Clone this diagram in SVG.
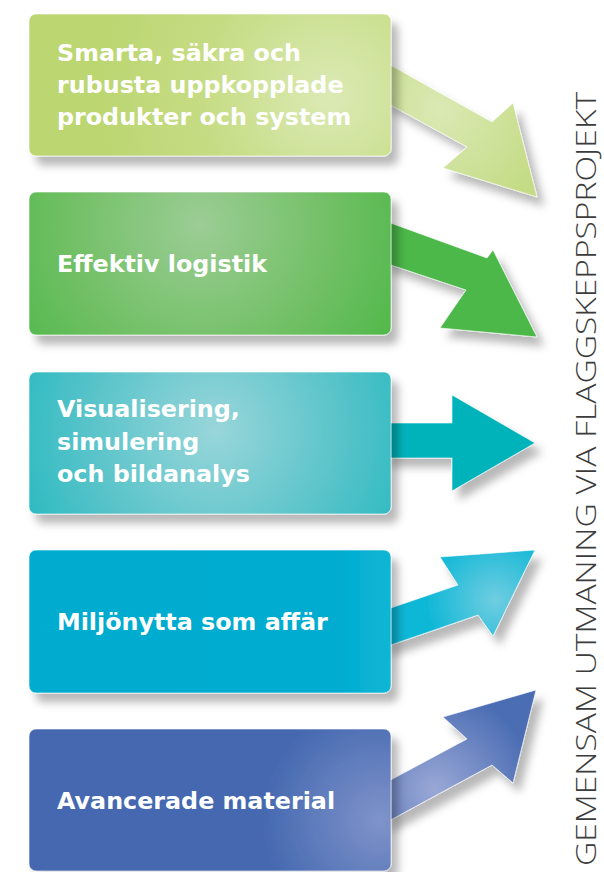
<svg xmlns="http://www.w3.org/2000/svg" width="604" height="872" viewBox="0 0 604 872">
<style>
.lbl{font-family:"DejaVu Sans",Verdana,sans-serif;font-weight:bold;font-size:23.8px;fill:#ffffff}
.side{font-family:"Open Sans","Liberation Sans",sans-serif;font-weight:300;font-size:28px;fill:#3c3c3c}
.box{stroke:#ffffff;stroke-opacity:0.6;stroke-width:1}
.arr{stroke:#ffffff;stroke-opacity:0.6;stroke-width:1;stroke-linejoin:miter}
</style>
<defs>
<filter id="sh" x="-20%" y="-20%" width="150%" height="150%">
<feDropShadow dx="7" dy="9" stdDeviation="4" flood-color="#000000" flood-opacity="0.28"/>
</filter>
<radialGradient id="g1" cx="330" cy="95" r="230" gradientUnits="userSpaceOnUse">
<stop offset="0" stop-color="#dbeab5"/><stop offset="0.55" stop-color="#c6dc84"/><stop offset="1" stop-color="#bcd672"/>
</radialGradient>
<radialGradient id="ga1" cx="440" cy="110" r="110" gradientUnits="userSpaceOnUse">
<stop offset="0" stop-color="#dbe9b4"/><stop offset="1" stop-color="#c4dc86"/>
</radialGradient>
<radialGradient id="g2" cx="200" cy="225" r="230" gradientUnits="userSpaceOnUse">
<stop offset="0" stop-color="#9ccd95"/><stop offset="0.6" stop-color="#6fbf63"/><stop offset="1" stop-color="#4db848"/>
</radialGradient>
<radialGradient id="g3" cx="215" cy="430" r="230" gradientUnits="userSpaceOnUse">
<stop offset="0" stop-color="#99d6da"/><stop offset="0.6" stop-color="#52c2c8"/><stop offset="1" stop-color="#20b8bf"/>
</radialGradient>
<linearGradient id="g4" x1="29" y1="0" x2="391" y2="0" gradientUnits="userSpaceOnUse">
<stop offset="0" stop-color="#00abd0"/><stop offset="0.85" stop-color="#00acd0"/><stop offset="1" stop-color="#0fb6d4"/>
</linearGradient>
<radialGradient id="ga4" cx="495" cy="600" r="70" gradientUnits="userSpaceOnUse">
<stop offset="0" stop-color="#70cde1"/><stop offset="1" stop-color="#0db7d6"/>
</radialGradient>
<radialGradient id="g5" cx="380" cy="820" r="120" gradientUnits="userSpaceOnUse">
<stop offset="0" stop-color="#7f93ca"/><stop offset="1" stop-color="#4468b0"/>
</radialGradient>
<radialGradient id="ga5" cx="435" cy="790" r="100" gradientUnits="userSpaceOnUse">
<stop offset="0" stop-color="#9aa8d6"/><stop offset="1" stop-color="#4b6db4"/>
</radialGradient>
</defs>

<g id="connectors">
<polygon id="arrow1" class="arr" filter="url(#sh)" fill="url(#ga1)" points="385,62 492,122 513,103 537,197 443,168 467,147 385,102"/>
<polygon id="arrow2" class="arr" filter="url(#sh)" fill="#4cb848" points="385,221 487,258 493,250 537,337 440,328 466,290 385,263"/>
<polygon id="arrow3" class="arr" filter="url(#sh)" fill="#00b3ba" points="385,423 452,423 452,395 535,443 452,491 452,458 385,458"/>
<polygon id="arrow4" class="arr" filter="url(#sh)" fill="url(#ga4)" points="385,610 458,585 440,557 535,550 493,636 478,615 385,647"/>
<polygon id="arrow5" class="arr" filter="url(#sh)" fill="url(#ga5)" points="385,783 467,739 443,717 536,690 513,783 492,765 385,823"/>
</g>

<g id="node1">
<rect class="box" filter="url(#sh)" x="29" y="14" width="362" height="142" rx="7" fill="url(#g1)"/>
<text class="lbl" x="57" y="61">Smarta, säkra och</text>
<text class="lbl" x="57" y="93">rubusta uppkopplade</text>
<text class="lbl" x="57" y="125">produkter och system</text>
</g>
<g id="node2">
<rect class="box" filter="url(#sh)" x="29" y="192" width="362" height="143" rx="7" fill="url(#g2)"/>
<text class="lbl" x="57" y="272">Effektiv logistik</text>
</g>
<g id="node3">
<rect class="box" filter="url(#sh)" x="29" y="372" width="362" height="142" rx="7" fill="url(#g3)"/>
<text class="lbl" x="57" y="417">Visualisering,</text>
<text class="lbl" x="57" y="450">simulering</text>
<text class="lbl" x="57" y="482">och bildanalys</text>
</g>
<g id="node4">
<rect class="box" filter="url(#sh)" x="29" y="550" width="362" height="143" rx="7" fill="url(#g4)"/>
<text class="lbl" x="57" y="630">Miljönytta som affär</text>
</g>
<g id="node5">
<rect class="box" filter="url(#sh)" x="29" y="729" width="362" height="142" rx="7" fill="url(#g5)"/>
<text class="lbl" x="57" y="809">Avancerade material</text>
</g>

<g id="sidelabel">
<text class="side" transform="translate(596,866) rotate(-90)" x="0" y="0" textLength="774" lengthAdjust="spacingAndGlyphs">GEMENSAM  UTMANING  VIA  FLAGGSKEPPSPROJEKT</text>
</g>
</svg>
